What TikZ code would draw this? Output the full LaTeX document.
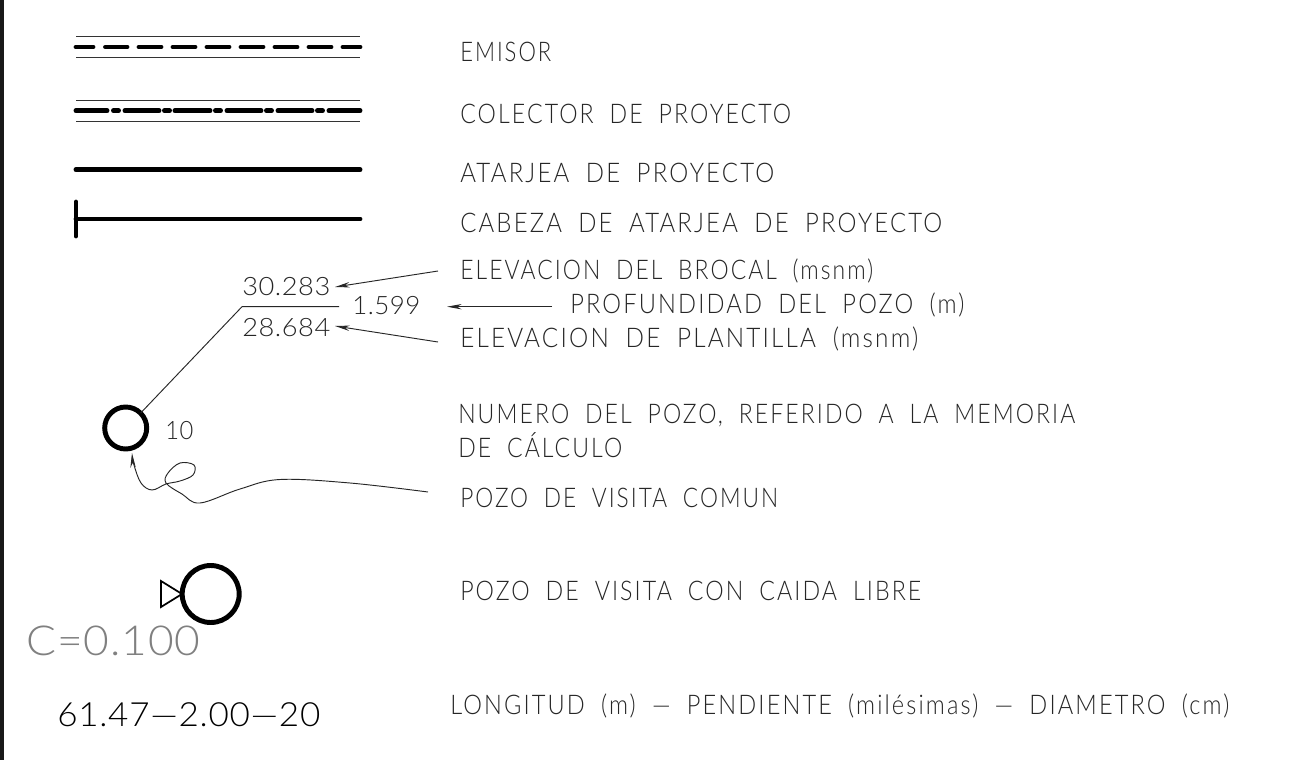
\documentclass[tikz,border=0pt]{standalone}
\usepackage{fontspec}
\usepackage{graphicx}
\setmainfont{Lato}[UprightFont={* Light},LetterSpace=9,WordSpace=1.9]
\usetikzlibrary{arrows.meta}
\definecolor{cgray}{gray}{0.5}
\newcommand{\fitw}[3]{\resizebox{\dimexpr #1pt*3/4\relax}{\height}{\fontsize{#2}{#2}\selectfont #3}}
\newcommand{\numw}[3]{\resizebox{\dimexpr #1pt*3/4\relax}{\height}{\fontsize{#2}{#2}\selectfont\addfontfeature{LetterSpace=2} #3}}
\tikzset{
  x=0.75pt,y=-0.75pt,
  lbl/.style={anchor=base west,inner sep=0pt,text=black!85},
  thinl/.style={line width=0.75pt,black!80},
  thick5/.style={line width=3.7pt,line cap=round,black},
  leader/.style={line width=0.7pt,black!85},
  arr/.style={leader,-{Stealth[length=11pt,width=4pt]}},
  pozo/.style={circle,draw=black,inner sep=0pt,outer sep=0pt,line width=3.7pt,fill=none},
}
\begin{document}
\begin{tikzpicture}
\useasboundingbox (0,0) rectangle (1314,760);
\fill[white] (0,0) rectangle (1314,760);
\fill[black!90] (0,0) rectangle (3.5,760);
% line samples
\draw[thinl] (76,36.5) -- (360,36.5);
\draw[thinl] (76,57) -- (360,57);
\foreach \a/\b in {76/93,105.5/127,139/161,173/195,207/229,241/263,275/297,309/331,343/360}
  \draw[thick5] (\a,47) -- (\b,47);
\draw[thinl] (76,100.7) -- (360,100.7);
\draw[thinl] (76,121) -- (360,121);
\foreach \a/\b in {76/107,113.5/118.5,125/159,164.5/169.5,175/210,215.5/220.5,227/261,266.5/271.5,278/312,317.5/322.5,329/360}
  \draw[thick5] (\a,110.7) -- (\b,110.7);
\draw[thick5] (76,169.7) -- (360,169.7);
\draw[thick5] (76,219) -- (360,219);
\draw[thick5] (76,202) -- (76,236);
% labels
\node[lbl] (t1) at (460,61) {\fitw{91}{20.3pt}{EMISOR}};
\node[lbl] (t2) at (460,123) {\fitw{331}{20.3pt}{COLECTOR DE PROYECTO}};
\node[lbl] (t3) at (460,182) {\fitw{314}{20.3pt}{ATARJEA DE PROYECTO}};
\node[lbl] (t4) at (460,232) {\fitw{482}{20.3pt}{CABEZA DE ATARJEA DE PROYECTO}};
\node[lbl] (t5) at (460,279) {\fitw{413}{20.3pt}{ELEVACION DEL BROCAL (msnm)}};
\node[lbl] (t6) at (570,313) {\fitw{394}{20.3pt}{PROFUNDIDAD DEL POZO (m)}};
\node[lbl] (t7) at (460,347) {\fitw{458}{20.3pt}{ELEVACION DE PLANTILLA (msnm)}};
\node[lbl] (t8) at (458,423) {\fitw{617}{20.3pt}{NUMERO DEL POZO, REFERIDO A LA MEMORIA}};
\node[lbl] (t9) at (458,457) {\fitw{164}{20.3pt}{DE CÁLCULO}};
\node[lbl] (t10) at (460,507) {\fitw{318}{20.3pt}{POZO DE VISITA COMUN}};
\node[lbl] (t11) at (460,600) {\fitw{461}{20.3pt}{POZO DE VISITA CON CAIDA LIBRE}};
\node[lbl] (t12) at (450,714) {\fitw{779}{20.3pt}{LONGITUD (m) — PENDIENTE (milésimas) — DIAMETRO (cm)}};
\node[lbl] (n1) at (242,295) {\numw{88}{19pt}{30.283}};
\node[lbl] (n2) at (352,314) {\numw{68}{19pt}{1.599}};
\node[lbl] (n3) at (242,336) {\numw{88}{19pt}{28.684}};
\node[lbl] (n4) at (165,439) {\numw{28}{19pt}{10}};
\node[lbl,text=cgray] (cc) at (26,655) {\numw{174}{31pt}{C=0.100}};
\node[lbl,text=black] (ll) at (57,726) {\numw{263}{25pt}{61.47—2.00—20}};
% wells
\node[pozo,minimum size=31.5pt] (p1) at (125.7,428) {};
\node[pozo,minimum size=42.75pt] (p2) at (210.7,594) {};
\draw[line width=1.3pt,black] (161,581) -- (161,607) -- (182,594) -- cycle;
% leader
\coordinate (k) at (242,306.7);
\coordinate (ke) at (339,306.7);
\draw[leader] (p1.45) -- (k) -- (ke);
\coordinate (s5) at (438,271);
\coordinate (s6) at (552,306.7);
\coordinate (s7) at (438,342);
\coordinate (e5) at (335,287);
\coordinate (e6) at (447,306.7);
\coordinate (e7) at (335,326);
\draw[arr] (s5) -- (e5);
\draw[arr] (s6) -- (e6);
\draw[arr] (s7) -- (e7);
\coordinate (s10) at (428,492);
\draw[leader,-{Stealth[length=11pt,width=4pt]}] plot[smooth,tension=0.6] coordinates {
  (s10) (350,483) (280,479.5) (240,489) (200,503) (182,494) (166,483) (168,473) (180,463) (194,465) (193,475) (180,481) (166,484) (152,490) (141,483) (134,465) (132,453)};
\end{tikzpicture}
\end{document}
